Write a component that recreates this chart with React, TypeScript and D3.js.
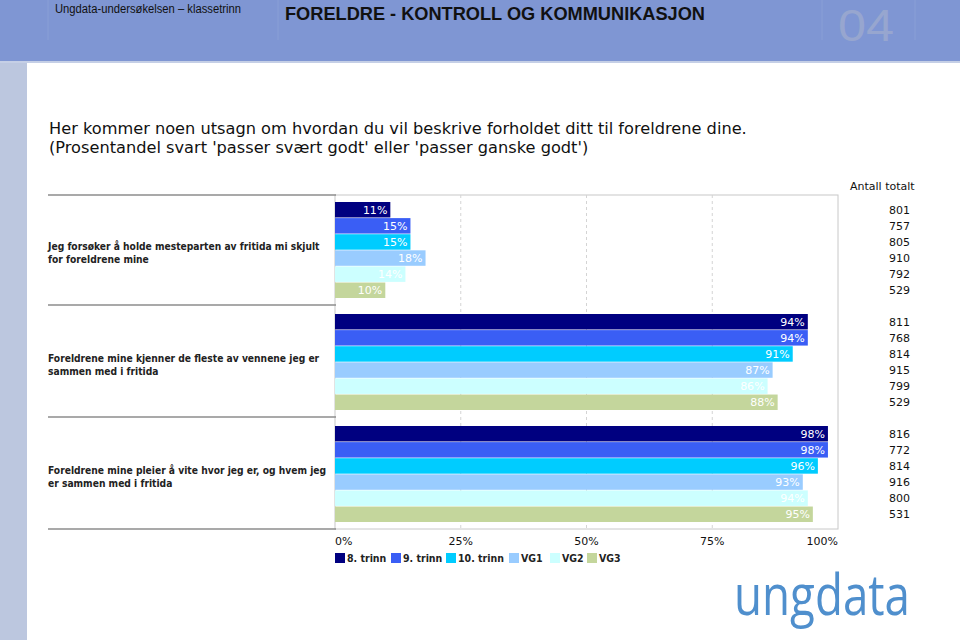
import React from "react";
import * as d3 from "d3";

const categories = [
  ["Jeg forsøker å holde mesteparten av fritida mi skjult", "for foreldrene mine"],
  ["Foreldrene mine kjenner de fleste av vennene jeg er", "sammen med i fritida"],
  ["Foreldrene mine pleier å vite hvor jeg er, og hvem jeg", "er sammen med i fritida"],
];
const seriesNames = ["8. trinn", "9. trinn", "10. trinn", "VG1", "VG2", "VG3"];
const seriesColors = ["#000080", "#3a5ef5", "#00ccff", "#99ccff", "#ccffff", "#c4d69c"];
const values = [
  [11, 15, 15, 18, 14, 10],
  [94, 94, 91, 87, 86, 88],
  [98, 98, 96, 93, 94, 95],
];
const counts = [
  [801, 757, 805, 910, 792, 529],
  [811, 768, 814, 915, 799, 529],
  [816, 772, 814, 916, 800, 531],
];
const ticks = [0, 25, 50, 75, 100];

export default function App() {
  const W = 960, H = 640;
  const x = d3.scaleLinear().domain([0, 100]).range([335, 838]);
  const groupY = d3.scaleBand<number>().domain([0, 1, 2]).range([195, 531]).paddingInner(0).paddingOuter(0);
  const top = 195, bottom = 529;
  const font = "Verdana, 'DejaVu Sans', sans-serif";
  const condensed = "'DejaVu Sans Condensed', 'DejaVu Sans', sans-serif";
  const legendX = [335, 391, 446, 509, 550, 587];
  return (
    <svg width={W} height={H} style={{ position: "absolute", left: 0, top: 0 }}>
      <rect x={0} y={0} width={W} height={H} fill="#fff" />
      {/* header */}
      <rect x={0} y={0} width={W} height={61} fill="#7f96d3" />
      <rect x={0} y={61} width={W} height={2} fill="#c5cfe6" />
      <rect x={0} y={63} width={27} height={H - 63} fill="#bcc7df" />
      {[48, 278, 822, 915].map((lx) => (
        <line key={lx} x1={lx} x2={lx} y1={0} y2={40} stroke="#8a9fd6" strokeWidth={1} />
      ))}
      <text x={55} y={13} fontFamily="'Liberation Sans Narrow', 'Liberation Sans', Arial, sans-serif" fontSize={12} fill="#111" textLength={186} lengthAdjust="spacingAndGlyphs">
        Ungdata-undersøkelsen – klassetrinn
      </text>
      <text x={285} y={20} fontFamily="'Liberation Sans', Arial, sans-serif" fontSize={18} fontWeight="bold" fill="#111" textLength={420} lengthAdjust="spacingAndGlyphs">
        FORELDRE - KONTROLL OG KOMMUNIKASJON
      </text>
      <text x={838} y={41} fontFamily="'Liberation Sans', Arial, sans-serif" fontSize={44} fill="#97a6cf" textLength={56} lengthAdjust="spacingAndGlyphs">
        04
      </text>
      {/* intro */}
      <text x={49} y={134} fontFamily={font} fontSize={16.2} fill="#111">
        Her kommer noen utsagn om hvordan du vil beskrive forholdet ditt til foreldrene dine.
      </text>
      <text x={49} y={153} fontFamily={font} fontSize={16.2} fill="#111">
        (Prosentandel svart 'passer svært godt' eller 'passer ganske godt')
      </text>
      {/* plot frame */}
      <rect x={335} y={top} width={503} height={bottom - top} fill="none" stroke="#c8c8c8" />
      {ticks.slice(1, 4).map((t) => (
        <line key={t} x1={x(t)} x2={x(t)} y1={top} y2={bottom} stroke="#d4d4d4" strokeDasharray="3,3" />
      ))}
      {/* separators */}
      {[195, 305, 417, 529].map((ly) => (
        <line key={ly} x1={48} x2={336} y1={ly} y2={ly} stroke="#8c8c8c" strokeWidth={1.5} />
      ))}
      <text x={850} y={190} fontFamily={font} fontSize={11} fill="#111">Antall totalt</text>
      {values.map((vals, g) => {
        const g0 = groupY(g)! + 7;
        const inner = d3.scaleBand<number>().domain(d3.range(6)).range([g0, g0 + 96]).paddingInner(0.04);
        return (
          <g key={g}>
            {categories[g].map((line, i) => (
              <text key={i} x={48} y={g0 + 48 + i * 13} fontFamily={condensed} fontSize={10.2} fontWeight="bold" fill="#222">
                {line}
              </text>
            ))}
            {vals.map((v, s) => {
              const y = inner(s)!;
              const h = inner.bandwidth();
              return (
                <g key={s}>
                  <rect x={x(0)} y={y} width={x(v) - x(0)} height={h} fill={seriesColors[s]} />
                  <text x={x(v) - 3} y={y + h / 2 + 4} textAnchor="end" fontFamily={font} fontSize={11} fill="#fff">
                    {v}%
                  </text>
                  <text x={910} y={y + h / 2 + 4} textAnchor="end" fontFamily={font} fontSize={11} fill="#111">
                    {counts[g][s]}
                  </text>
                </g>
              );
            })}
          </g>
        );
      })}
      {ticks.map((t, i) => (
        <text key={t} x={x(t)} y={545} textAnchor={i === 0 ? "start" : i === ticks.length - 1 ? "end" : "middle"} fontFamily={font} fontSize={11} fill="#111">
          {t}%
        </text>
      ))}
      {seriesNames.map((n, i) => (
        <g key={n}>
          <rect x={legendX[i]} y={553} width={10} height={10} fill={seriesColors[i]} />
          <text x={legendX[i] + 12} y={562} fontFamily={condensed} fontSize={10.5} fontWeight="bold" fill="#222">{n}</text>
        </g>
      ))}
      <text x={734} y={615} fontFamily="'Open Sans', sans-serif" fontWeight={400} fontSize={56} fill="#4f8fcd" textLength={176} lengthAdjust="spacingAndGlyphs">
        ungdata
      </text>
    </svg>
  );
}
